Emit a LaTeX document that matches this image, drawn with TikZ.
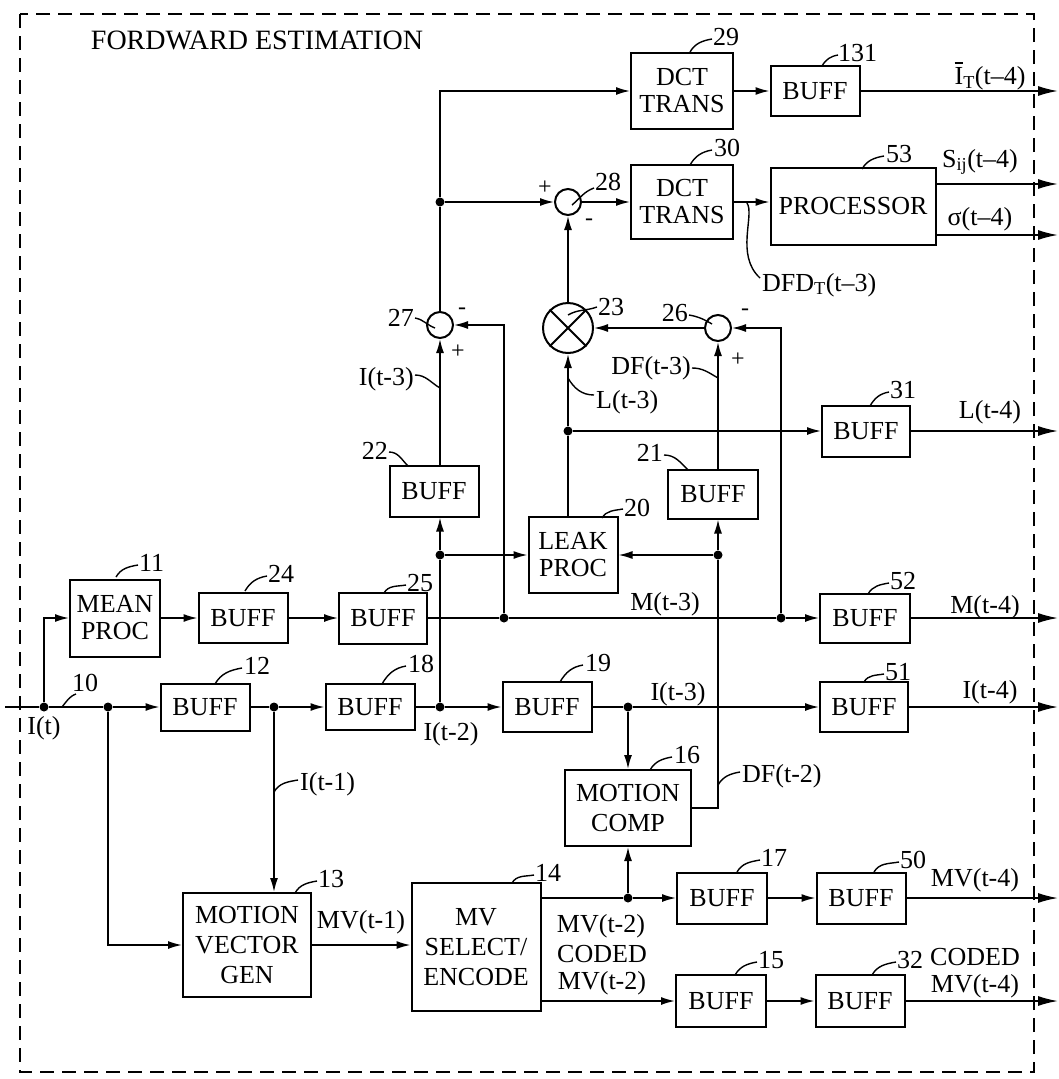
\documentclass[tikz,border=0pt]{standalone}
\usepackage{fontspec}
\setmainfont{Liberation Serif}
\usetikzlibrary{arrows.meta}
\newcommand\lbl{\fontsize{26}{27}\selectfont}
\newcommand\lblw{\fontsize{26}{30}\selectfont}
\newcommand\ibar{\rlap{\raisebox{0.8em}{\rule{0.32em}{1.4pt}}}I}
\begin{document}
\begin{tikzpicture}[x=1pt,y=-1pt,
  box/.style={draw,line width=2pt,align=center,inner sep=0pt,font=\lbl},
  boxw/.style={box,font=\lblw},
  sumc/.style={draw,circle,line width=2pt,minimum size=26pt,inner sep=0pt},
  ln/.style={line width=1.6pt},
  arr/.style={ln,-{Latex[length=14pt,width=8pt]}},
  oarr/.style={ln,-{Latex[length=20pt,width=10pt]}},
  dot/.style={circle,fill,inner sep=0pt,minimum size=9pt},
  leader/.style={line width=1.4pt},
  txt/.style={inner sep=0pt,font=\lbl},
  num/.style={inner sep=0pt,font=\lbl,anchor=west},
  sgn/.style={inner sep=0pt,font=\fontsize{24}{24}\selectfont},
]
\useasboundingbox (0,0) rectangle (1059,1079);
\draw[line width=2pt,dash pattern=on 14pt off 8pt] (20,14) rectangle (1034,1072);
\node[inner sep=0pt,font=\fontsize{28}{30}\selectfont] (title) at (257,40) {FORDWARD\ ESTIMATION};

% ---- blocks
\node[box,minimum width=102pt,minimum height=76pt] (b29) at (682,91) {DCT\\TRANS};
\node[box,minimum width=89pt,minimum height=50pt] (b131) at (815,91) {BUFF};
\node[sumc] (s28) at (568,202) {};
\node[box,minimum width=102pt,minimum height=74pt] (b30) at (682,202) {DCT\\TRANS};
\node[box,minimum width=165pt,minimum height=77pt] (b53) at (853,206) {PROCESSOR};
\node[draw,circle,line width=2pt,minimum size=50pt,inner sep=0pt] (m23) at (568,328) {};
\draw[line width=2pt] (m23.45) -- (m23.225) (m23.135) -- (m23.315);
\node[sumc] (s26) at (718,328) {};
\node[sumc] (s27) at (440,325) {};
\node[box,minimum width=89pt,minimum height=51pt] (b22) at (434,491) {BUFF};
\node[box,minimum width=88pt,minimum height=51pt] (b31) at (866,431) {BUFF};
\node[box,minimum width=89pt,minimum height=76pt] (b20) at (573,555) {LEAK\\PROC};
\node[box,minimum width=90pt,minimum height=49pt] (b21) at (713,494) {BUFF};
\node[box,minimum width=90pt,minimum height=77pt] (b11) at (115,618) {MEAN\\PROC};
\node[box,minimum width=89pt,minimum height=50pt] (b24) at (243,618) {BUFF};
\node[box,minimum width=88pt,minimum height=51pt] (b25) at (383,618) {BUFF};
\node[box,minimum width=90pt,minimum height=49pt] (b52) at (865,618) {BUFF};
\node[box,minimum width=89pt,minimum height=47pt] (b12) at (205,707) {BUFF};
\node[box,minimum width=89pt,minimum height=46pt] (b18) at (370,707) {BUFF};
\node[box,minimum width=89pt,minimum height=50pt] (b19) at (547,707) {BUFF};
\node[box,minimum width=88pt,minimum height=50pt] (b51) at (864,707) {BUFF};
\node[boxw,minimum width=126pt,minimum height=76pt] (b16) at (628,808) {MOTION\\COMP};
\node[boxw,minimum width=128pt,minimum height=104pt] (b13) at (247,945) {MOTION\\VECTOR\\GEN};
\node[boxw,minimum width=129pt,minimum height=128pt] (b14) at (476,947) {MV\\SELECT/\\ENCODE};
\node[box,minimum width=90pt,minimum height=51pt] (b17) at (722,898) {BUFF};
\node[box,minimum width=89pt,minimum height=51pt] (b50) at (861,898) {BUFF};
\node[box,minimum width=90pt,minimum height=52pt] (b15) at (721,1001) {BUFF};
\node[box,minimum width=89pt,minimum height=52pt] (b32) at (860,1001) {BUFF};

% ---- junction dots and free ends
\node[dot] (d0) at (44,707) {};
\node[dot] (d1) at (108,707) {};
\node[dot] (d2) at (274,707) {};
\node[dot] (d3) at (440,707) {};
\node[dot] (d4) at (628,707) {};
\node[dot] (dM1) at (504,618) {};
\node[dot] (dM2) at (781,618) {};
\node[dot] (d5) at (628,898) {};
\node[dot] (d6) at (718,555) {};
\node[dot] (d7) at (440,555) {};
\node[dot] (d8) at (568,431) {};
\node[dot] (d9) at (440,202) {};
\coordinate (in) at (5,707);
\coordinate (oT) at (1058,91);
\coordinate (oS) at (1058,184);
\coordinate (oSig) at (1058,235);
\coordinate (oL) at (1058,431);
\coordinate (oM) at (1058,618);
\coordinate (oI) at (1058,707);
\coordinate (oMV) at (1058,898);
\coordinate (oC) at (1058,1001);

% ---- connectors
\draw[ln] (in) -- (d0);
\draw[ln] (d0) -- (d1);
\draw[arr] (d1) -- (b12);
\draw[arr] (d0) |- (b11);
\draw[arr] (b11) -- (b24);
\draw[arr] (b24) -- (b25);
\draw[ln] (b25) -- (dM1);
\draw[ln] (dM1) -- (dM2);
\draw[arr] (dM2) -- (b52);
\draw[oarr] (b52) -- (oM);
\draw[ln] (b12) -- (d2);
\draw[arr] (d2) -- (b18);
\draw[ln] (b18) -- (d3);
\draw[arr] (d3) -- (b19);
\draw[ln] (b19) -- (d4);
\draw[arr] (d4) -- (b51);
\draw[oarr] (b51) -- (oI);
\draw[arr] (d1) |- (b13.west);
\draw[arr] (d2) -- (d2 |- b13.north);
\draw[arr] (b13.east) -- (b13.east -| b14.west);
\draw[ln] (b14.east |- d5) -- (d5);
\draw[arr] (d5) -- (b17);
\draw[arr] (b17) -- (b50);
\draw[oarr] (b50) -- (oMV);
\draw[arr] (d5) -- (b16.south);
\draw[arr] (d4) -- (b16.north);
\draw[arr] (b14.east |- b15) -- (b15);
\draw[arr] (b15) -- (b32);
\draw[oarr] (b32) -- (oC);
\draw[ln] (b16.east) -| (d6);
\draw[arr] (d6) -- (d6 |- b21.south);
\draw[arr] (d6) -- (b20.east |- d6);
\draw[arr] (d6 |- b21.north) -- (s26);
\draw[ln] (d3) -- (d7);
\draw[arr] (d7) -- (d7 |- b22.south);
\draw[arr] (d7) -- (b20.west |- d7);
\draw[arr] (d7 |- b22.north) -- (s27);
\draw[arr] (dM1) |- (s27);
\draw[arr] (dM2) |- (s26);
\draw[arr] (s26) -- (m23);
\draw[ln] (b20.north -| d8) -- (d8);
\draw[arr] (d8) -- (m23);
\draw[arr] (d8) -- (b31);
\draw[oarr] (b31) -- (oL);
\draw[arr] (m23) -- (s28);
\draw[ln] (s27) -- (d9);
\draw[arr] (d9) |- (b29.west);
\draw[arr] (d9) -- (s28);
\draw[arr] (s28) -- (b30);
\draw[arr] (b29) -- (b131);
\draw[oarr] (b131) -- (oT);
\draw[arr] (b30.east) -- (b30.east -| b53.west);
\draw[oarr] (b53.east |- oS) -- (oS);
\draw[oarr] (b53.east |- oSig) -- (oSig);

% ---- signs
\node[sgn] (p27a) at (462,311) {-};
\node[sgn] (p27b) at (458,352) {+};
\node[sgn] (p28a) at (545,188) {+};
\node[sgn] (p28b) at (589,222) {-};
\node[sgn] (p26a) at (745,312) {-};
\node[sgn] (p26b) at (738,360) {+};

% ---- reference numerals with leaders
\draw[leader] (690,52) to[out=60,in=190] (712,39);   \node[num] (n29) at (713,37) {29};
\draw[leader] (822,66) to[out=60,in=190] (838,55);   \node[num] (n131) at (838,53) {131};
\draw[leader] (690,165) to[out=60,in=190] (712,150); \node[num] (n30) at (714,148) {30};
\draw[leader] (862,169) to[out=60,in=190] (884,156); \node[num] (n53) at (886,154) {53};
\draw[leader] (572,205) to[out=40,in=200] (594,188); \node[num] (n28) at (595,182) {28};
\draw[leader] (568,315) to[out=30,in=200] (597,307); \node[num] (n23) at (598,307) {23};
\draw[leader] (689,315) to[out=-10,in=150] (712,324); \node[num,anchor=east] (n26) at (688,313) {26};
\draw[leader] (415,318) to[out=-10,in=160] (435,328); \node[num,anchor=east] (n27) at (414,318) {27};
\draw[leader] (389,452) to[out=0,in=135] (408,466);  \node[num,anchor=east] (n22) at (388,451) {22};
\draw[leader] (664,455) to[out=0,in=135] (688,470);  \node[num,anchor=east] (n21) at (663,453) {21};
\draw[leader] (602,518) to[out=60,in=190] (623,509); \node[num] (n20) at (624,508) {20};
\draw[leader] (870,406) to[out=60,in=190] (889,392); \node[num] (n31) at (890,390) {31};
\draw[leader] (116,577) to[out=60,in=190] (138,565); \node[num] (n11) at (139,563) {11};
\draw[leader] (245,591) to[out=60,in=190] (267,576); \node[num] (n24) at (268,574) {24};
\draw[leader] (384,593) to[out=60,in=190] (406,585); \node[num] (n25) at (407,583) {25};
\draw[leader] (868,594) to[out=60,in=190] (889,583); \node[num] (n52) at (890,581) {52};
\draw[leader] (215,684) to[out=60,in=190] (242,668); \node[num] (n12) at (244,666) {12};
\draw[leader] (382,684) to[out=60,in=190] (406,666); \node[num] (n18) at (408,664) {18};
\draw[leader] (560,682) to[out=60,in=190] (583,665); \node[num] (n19) at (585,663) {19};
\draw[leader] (864,682) to[out=60,in=190] (884,674); \node[num] (n51) at (885,672) {51};
\draw[leader] (62,707) to[out=50,in=200] (76,694);   \node[num] (n10) at (72,683) {10};
\draw[leader] (650,770) to[out=60,in=190] (672,757); \node[num] (n16) at (674,755) {16};
\draw[leader] (295,893) to[out=60,in=190] (317,881); \node[num] (n13) at (318,879) {13};
\draw[leader] (512,883) to[out=60,in=190] (534,875); \node[num] (n14) at (535,873) {14};
\draw[leader] (737,872) to[out=60,in=190] (760,860); \node[num] (n17) at (761,858) {17};
\draw[leader] (874,872) to[out=60,in=190] (899,862); \node[num] (n50) at (900,860) {50};
\draw[leader] (735,975) to[out=60,in=190] (757,962); \node[num] (n15) at (758,960) {15};
\draw[leader] (872,975) to[out=60,in=190] (896,962); \node[num] (n32) at (897,960) {32};

% ---- signal labels with leaders
\draw[leader] (415,375) to[out=0,in=150] (440,388);  \node[txt,anchor=east] (lI3a) at (414,379) {I(t-3)};
\draw[leader] (692,368) to[out=0,in=150] (718,378);  \node[txt,anchor=east] (lDF3) at (691,368) {DF(t-3)};
\draw[leader] (568,378) to[out=-60,in=180] (594,395); \node[txt,anchor=west] (lL3) at (596,402) {L(t-3)};
\draw[leader] (274,792) to[out=60,in=190] (298,780); \node[txt,anchor=west] (lI1) at (300,784) {I(t-1)};
\draw[leader] (718,785) to[out=60,in=190] (740,772); \node[txt,anchor=west] (lDF2) at (742,776) {DF(t-2)};
\draw[leader] (747,203) .. controls (755,215) and (735,255) .. (760,278);
\node[txt,anchor=west] (lDFD) at (762,285) {DFD\textsubscript{T}(t–3)};

% ---- plain signal labels
\node[txt] (lIT) at (990,76) {\ibar\textsubscript{T}(t–4)};
\node[txt] (lS) at (980,162) {S\textsubscript{ij}(t–4)};
\node[txt] (lSig) at (980,219) {σ(t–4)};
\node[txt] (lL4) at (990,412) {L(t-4)};
\node[txt] (lM4) at (985,607) {M(t-4)};
\node[txt] (lI4) at (990,692) {I(t-4)};
\node[txt] (lM3) at (665,604) {M(t-3)};
\node[txt] (lI3b) at (678,694) {I(t-3)};
\node[txt] (lI2) at (451,734) {I(t-2)};
\node[txt] (lIt) at (44,728) {I(t)};
\node[txt] (lMV1) at (361,922) {MV(t-1)};
\node[txt] (lMV2) at (601,926) {MV(t-2)};
\node[txt,align=center] (lCMV2) at (602,970) {CODED\\MV(t-2)};
\node[txt] (lMV4) at (975,880) {MV(t-4)};
\node[txt,align=center] (lCMV4) at (975,973) {CODED\\MV(t-4)};
\end{tikzpicture}
\end{document}
